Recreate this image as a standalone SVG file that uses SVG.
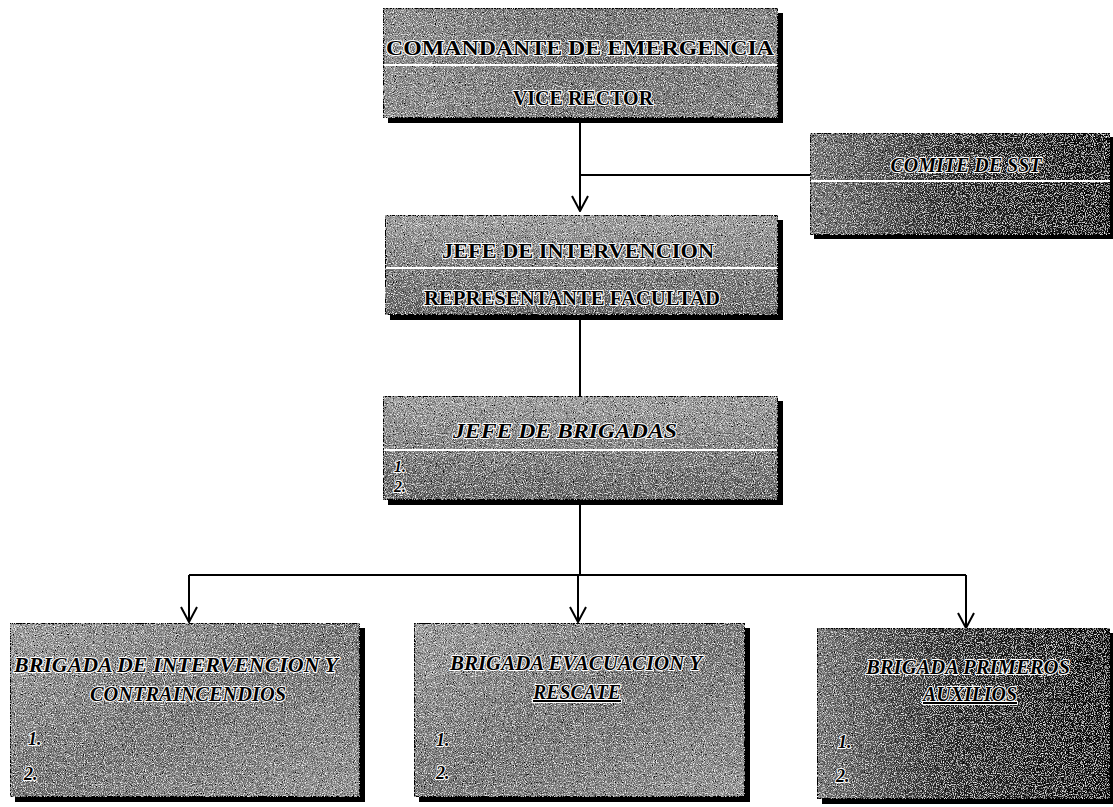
<svg xmlns="http://www.w3.org/2000/svg" width="1113" height="807" viewBox="0 0 1113 807">
<style>
.box{stroke:#000;stroke-width:2}
.shadow{fill:#000}
.div{stroke:#fff;stroke-width:2}
.t{font-family:"Liberation Serif","Times New Roman",serif;font-weight:bold;fill:#000;stroke:#fff;stroke-width:2;paint-order:stroke;stroke-linejoin:round}
.it{font-style:italic}
.conn{stroke:#000;stroke-width:2;fill:none}
</style>
<defs>
<marker id="arrow" markerUnits="userSpaceOnUse" markerWidth="18" markerHeight="18" viewBox="0 0 18 18" refX="17" refY="9" orient="auto">
<path d="M2,1 L17,9 L2,17" fill="none" stroke="#000" stroke-width="2"/>
</marker>
<linearGradient id="gMid" x1="0" y1="0" x2="1" y2="0">
<stop offset="0" stop-color="#929292"/><stop offset="0.5" stop-color="#747474"/><stop offset="1" stop-color="#848484"/>
</linearGradient>
<linearGradient id="gV" x1="0" y1="0" x2="0" y2="1">
<stop offset="0" stop-color="#a6a6a6"/><stop offset="1" stop-color="#626262"/>
</linearGradient>
<linearGradient id="gDark" x1="0" y1="0" x2="1" y2="0">
<stop offset="0" stop-color="#7a7a7a"/><stop offset="0.45" stop-color="#2e2e2e"/><stop offset="1" stop-color="#111"/>
</linearGradient>
<linearGradient id="gBot" x1="0" y1="0" x2="1" y2="1">
<stop offset="0" stop-color="#a4a4a4"/><stop offset="0.5" stop-color="#767676"/><stop offset="1" stop-color="#989898"/>
</linearGradient>
<filter id="grain" x="0" y="0" width="100%" height="100%">
<feTurbulence type="fractalNoise" baseFrequency="0.9" numOctaves="2" seed="4" result="n"/>
<feColorMatrix in="n" type="matrix" values="0 0 0 0 0  0 0 0 0 0  0 0 0 0 0  3 0 0 0 -1.3" result="dots"/>
<feComposite in="dots" in2="SourceGraphic" operator="in" result="d2"/>
<feColorMatrix in="n" type="matrix" values="0 0 0 0 1  0 0 0 0 1  0 0 0 0 1  0 -3 0 0 1.5" result="wdots"/>
<feComposite in="wdots" in2="SourceGraphic" operator="in" result="w2"/>
<feMerge><feMergeNode in="SourceGraphic"/><feMergeNode in="d2"/><feMergeNode in="w2"/></feMerge>
</filter>
</defs>
<rect width="1113" height="807" fill="#fff"/>

<g id="connectors">
<path class="conn" d="M580,123 V211" marker-end="url(#arrow)"/>
<path class="conn" d="M580,175 H810"/>
<path class="conn" d="M580,316 V396"/>
<path class="conn" d="M580,502 V575"/>
<path class="conn" d="M189,575 H966"/>
<path class="conn" d="M189,575 V622" marker-end="url(#arrow)"/>
<path class="conn" d="M578,575 V622" marker-end="url(#arrow)"/>
<path class="conn" d="M966,575 V628" marker-end="url(#arrow)"/>
</g>

<g id="node-comandante">
<rect class="shadow" x="388" y="13" width="395" height="110"/>
<rect class="box" x="383" y="8" width="395" height="110" fill="url(#gMid)" filter="url(#grain)"/>
<line class="div" x1="384" y1="65" x2="777" y2="65"/>
<text class="t" x="580" y="55" font-size="21" text-anchor="middle" textLength="388" lengthAdjust="spacingAndGlyphs">COMANDANTE DE EMERGENCIA</text>
<text class="t" x="583" y="105" font-size="20" text-anchor="middle">VICE RECTOR</text>
</g>

<g id="node-comite">
<rect class="shadow" x="814" y="137" width="299" height="102"/>
<rect class="box" x="810" y="133" width="300" height="102" fill="url(#gDark)" filter="url(#grain)"/>
<line class="div" x1="811" y1="181" x2="1110" y2="181"/>
<text class="t it" x="966" y="172" font-size="20" text-anchor="middle">COMITE DE SST</text>
</g>

<g id="node-jefe-intervencion">
<rect class="shadow" x="390" y="220" width="393" height="100"/>
<rect class="box" x="385" y="215" width="393" height="100" fill="url(#gV)" filter="url(#grain)"/>
<line class="div" x1="386" y1="268" x2="777" y2="268"/>
<text class="t" x="578" y="258" font-size="21" text-anchor="middle" textLength="272" lengthAdjust="spacingAndGlyphs">JEFE DE INTERVENCION</text>
<text class="t" x="572" y="305" font-size="20" text-anchor="middle" textLength="296" lengthAdjust="spacingAndGlyphs">REPRESENTANTE FACULTAD</text>
</g>

<g id="node-jefe-brigadas">
<rect class="shadow" x="388" y="401" width="395" height="104"/>
<rect class="box" x="383" y="396" width="395" height="104" fill="url(#gV)" filter="url(#grain)"/>
<line class="div" x1="384" y1="450" x2="777" y2="450"/>
<text class="t it" x="565" y="438" font-size="22" text-anchor="middle" textLength="224" lengthAdjust="spacingAndGlyphs">JEFE DE BRIGADAS</text>
<text class="t it" x="394" y="472" font-size="16">1.</text>
<text class="t it" x="394" y="492" font-size="16">2.</text>
</g>

<g id="node-brigada-intervencion">
<rect class="shadow" x="15" y="628" width="350" height="174"/>
<rect class="box" x="10" y="623" width="350" height="174" fill="url(#gBot)" filter="url(#grain)"/>
<text class="t it" x="176" y="672" font-size="20" text-anchor="middle" textLength="324" lengthAdjust="spacingAndGlyphs">BRIGADA DE INTERVENCION Y</text>
<text class="t it" x="188" y="701" font-size="20" text-anchor="middle" textLength="196" lengthAdjust="spacingAndGlyphs">CONTRAINCENDIOS</text>
<text class="t it" x="28" y="745" font-size="18">1.</text>
<text class="t it" x="24" y="780" font-size="18">2.</text>
</g>

<g id="node-brigada-evacuacion">
<rect class="shadow" x="419" y="628" width="331" height="174"/>
<rect class="box" x="414" y="623" width="331" height="174" fill="url(#gBot)" filter="url(#grain)"/>
<text class="t it" x="576" y="670" font-size="20" text-anchor="middle" textLength="252" lengthAdjust="spacingAndGlyphs">BRIGADA EVACUACION Y</text>
<text class="t it" x="577" y="699" font-size="20" text-anchor="middle" textLength="88" lengthAdjust="spacingAndGlyphs" text-decoration="underline">RESCATE</text>
<text class="t it" x="436" y="746" font-size="18">1.</text>
<text class="t it" x="436" y="779" font-size="18">2.</text>
</g>

<g id="node-brigada-primeros">
<rect class="shadow" x="822" y="633" width="291" height="171"/>
<rect class="box" x="817" y="628" width="293" height="171" fill="url(#gDark)" filter="url(#grain)"/>
<text class="t it" x="968" y="674" font-size="20" text-anchor="middle" textLength="204" lengthAdjust="spacingAndGlyphs">BRIGADA PRIMEROS</text>
<text class="t it" x="970" y="701" font-size="20" text-anchor="middle" textLength="94" lengthAdjust="spacingAndGlyphs" text-decoration="underline">AUXILIOS</text>
<text class="t it" x="838" y="748" font-size="18">1.</text>
<text class="t it" x="836" y="782" font-size="18">2.</text>
</g>
</svg>
